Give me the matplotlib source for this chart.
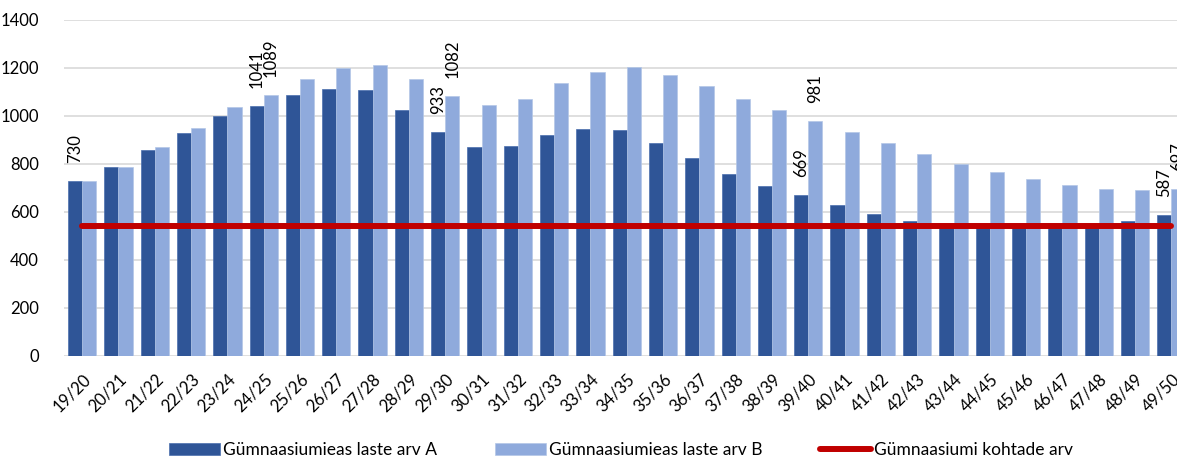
import numpy as np
import matplotlib.pyplot as plt
import matplotlib.transforms as mtransforms

plt.rcParams['font.family'] = ['Lato', 'DejaVu Sans']

years = ["19/20", "20/21", "21/22", "22/23", "23/24", "24/25", "25/26", "26/27",
         "27/28", "28/29", "29/30", "30/31", "31/32", "32/33", "33/34", "34/35",
         "35/36", "36/37", "37/38", "38/39", "39/40", "40/41", "41/42", "42/43",
         "43/44", "44/45", "45/46", "46/47", "47/48", "48/49", "49/50"]

laste_a = [730, 786, 859, 929, 1002, 1041, 1089, 1113, 1107, 1027, 933, 872, 874,
           919, 944, 940, 888, 824, 759, 709, 669, 630, 591, 563, 545, 541, 540,
           539, 544, 562, 587]
laste_b = [730, 786, 870, 950, 1036, 1089, 1155, 1198, 1212, 1155, 1082, 1044, 1069,
           1139, 1184, 1204, 1171, 1126, 1072, 1025, 981, 934, 887, 841, 800, 765,
           736, 713, 697, 691, 697]
kohtade = [540] * len(years)

# which bars get a value label
label_a = ["19/20", "24/25", "29/30", "39/40", "49/50"]
label_b = ["24/25", "29/30", "39/40", "49/50"]

c_a = "#2F5597"
c_b = "#8FAADC"
c_red = "#C00000"

fig = plt.figure(figsize=(11.77, 4.59), dpi=100)
ax = fig.add_axes([64 / 1177, 1 - 356 / 459, 1125.5 / 1177, 336 / 459])

x = np.arange(len(years))
w = 0.39
bars_a = ax.bar(x - w / 2, laste_a, w, color=c_a, edgecolor="#4a6fae", linewidth=0.5,
                label="Gümnaasiumieas laste arv A", zorder=2)
bars_b = ax.bar(x + w / 2, laste_b, w, color=c_b, edgecolor="#b4c7e7", linewidth=0.5,
                label="Gümnaasiumieas laste arv B", zorder=2)
line, = ax.plot(x, kohtade, color=c_red, linewidth=4.3, solid_capstyle="round",
                label="Gümnaasiumi kohtade arv", zorder=3)

for i, y in enumerate(years):
    if y in label_a:
        ax.annotate(str(laste_a[i]), (x[i] - w / 2, laste_a[i]), xytext=(0, 13),
                    textcoords="offset points", rotation=90, ha="center", va="bottom",
                    fontsize=12, color="#000000", annotation_clip=False)
    if y in label_b:
        ax.annotate(str(laste_b[i]), (x[i] + w / 2, laste_b[i]), xytext=(0, 13),
                    textcoords="offset points", rotation=90, ha="center", va="bottom",
                    fontsize=12, color="#000000", annotation_clip=False)

ax.set_xlim(-0.5, len(years) - 0.5)
ax.set_ylim(0, 1400)
ax.set_yticks(range(0, 1401, 200))
ax.set_xticks(x)
ax.set_xticklabels(years, rotation=45, ha="right", rotation_mode="anchor", fontsize=12)
shift = mtransforms.ScaledTranslation(-3 / 100, 0, fig.dpi_scale_trans)
for lbl in ax.get_xticklabels():
    lbl.set_transform(lbl.get_transform() + shift)
ax.tick_params(axis="both", length=0, colors="#000000")
ax.tick_params(axis="y", pad=18, labelsize=12)
ax.tick_params(axis="x", pad=11)
ax.yaxis.grid(True, color="#d9d9d9", linewidth=1.2, zorder=0)
ax.set_axisbelow(True)
for s in ax.spines.values():
    s.set_visible(False)

fig.legend(handles=[bars_a, bars_b, line], loc="lower center",
           bbox_to_anchor=(0.5277, -0.032), ncol=3, frameon=False, fontsize=12.5,
           handlelength=2.93, handleheight=0.75, columnspacing=3.3, handletextpad=0.2)

fig.savefig("out.png", dpi=100)
